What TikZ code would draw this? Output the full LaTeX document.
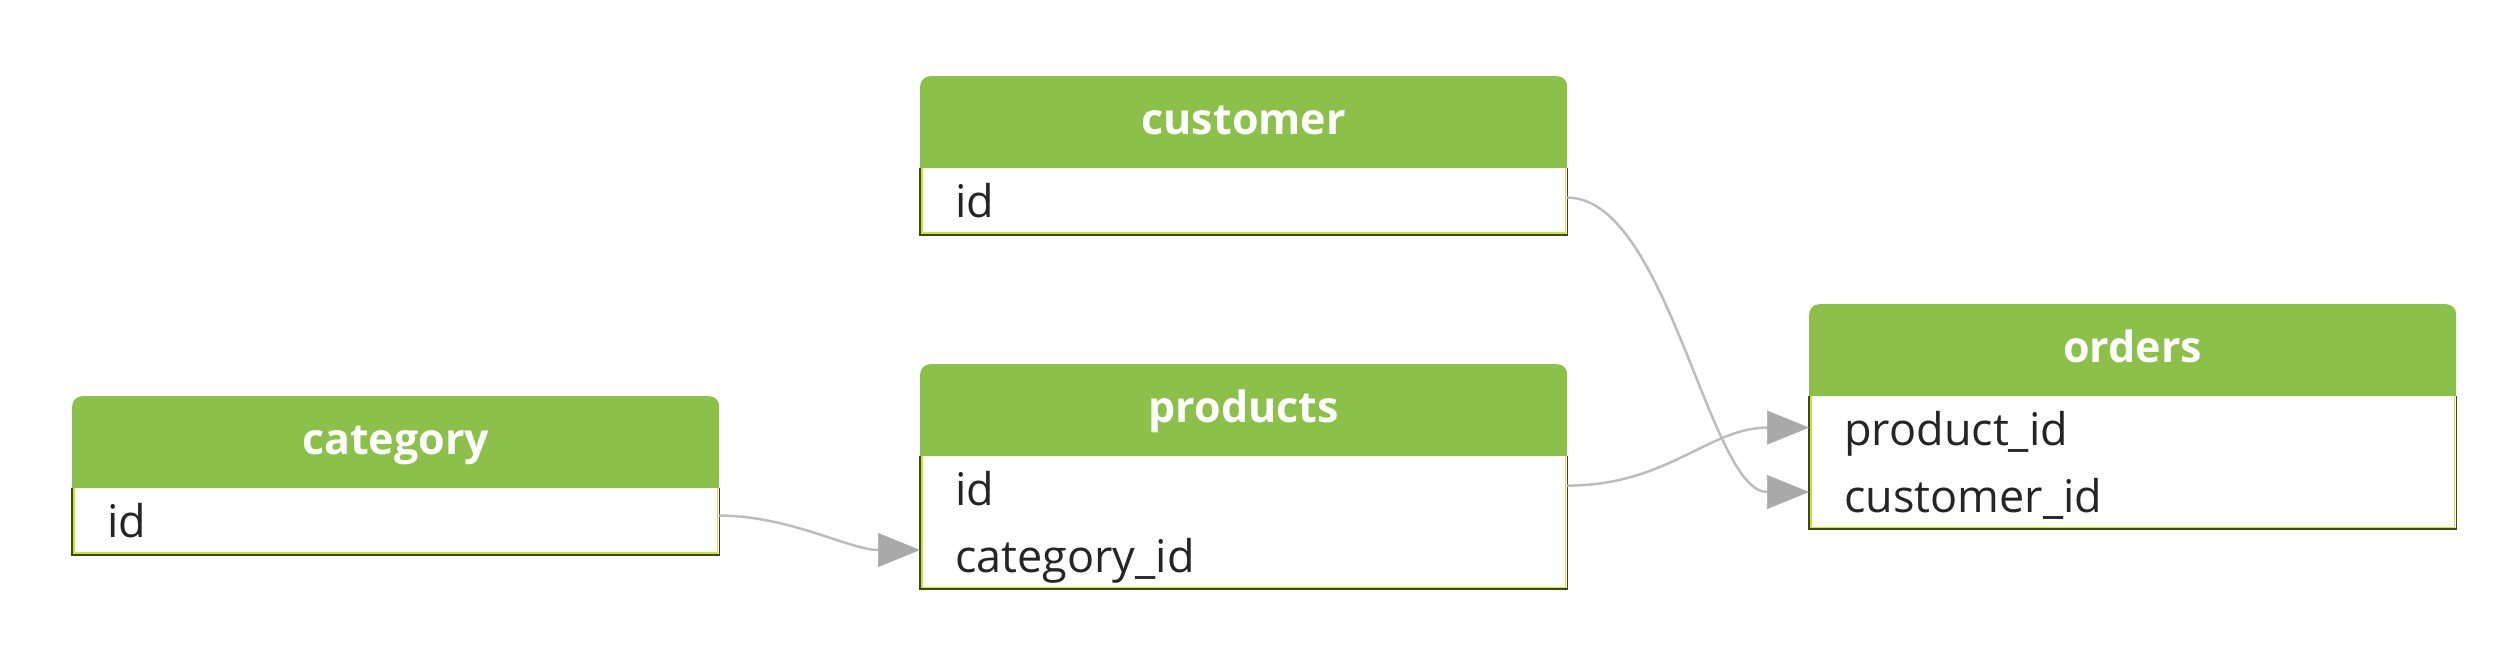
\documentclass[tikz,border=0pt]{standalone}
\usepackage{fontspec}
\setmainfont{Open Sans}
\usetikzlibrary{arrows.meta}
\definecolor{hdr}{HTML}{8CC04B}
\definecolor{edgeD}{HTML}{3E4A12}
\definecolor{edgeY}{HTML}{CBE03A}
\definecolor{conn}{HTML}{BDBDBD}
\definecolor{tipc}{HTML}{A9A9A9}
\definecolor{rowtxt}{HTML}{252525}
\tikzset{
  hdrbox/.style={fill=hdr, rounded corners=10pt, minimum width=647pt, minimum height=92pt,
    inner sep=0pt, anchor=north west, text=white, text height=34pt, text depth=10pt,
    font=\bfseries\fontsize{43}{50}\selectfont},
  rowbox/.style={fill=white, minimum height=66pt, inner ysep=0pt, inner xsep=35pt,
    text width=577pt, align=left, anchor=north west, text height=40pt, text depth=8pt,
    font=\fontsize{45}{50}\selectfont, text=rowtxt},
  fk/.style={draw=conn, line width=2.5pt, -{Triangle[length=42pt,width=34pt,color=tipc,line width=0.5pt]}},
  edgedark/.style={draw=edgeD, line width=1.8pt},
  edgelight/.style={draw=edgeY, line width=1.4pt},
}
\newcommand\tblborder[2]{%
  \draw[edgelight] ([xshift=2pt]#1.north west) -- ([shift={(2pt,2pt)}]#2.south west)
     -- ([shift={(-2pt,2pt)}]#2.south east) -- ([xshift=-2pt]#1.north east);
  \draw[edgedark] (#1.north west) -- (#2.south west) -- (#2.south east) -- (#1.north east);
}
\begin{document}
\begin{tikzpicture}[x=1pt,y=-1pt]
\useasboundingbox (0,0) rectangle (2520,664);
\fill[white] (0,0) rectangle (2520,664);

% customer
\node[hdrbox] (cust) at (920,76) {customer};
\fill[hdr] ([yshift=12pt]cust.south west) rectangle (cust.south east);
\node[rowbox] (cust-id) at (cust.south west) {id};
\tblborder{cust-id}{cust-id}

% products
\node[hdrbox] (prod) at (920,364) {products};
\fill[hdr] ([yshift=12pt]prod.south west) rectangle (prod.south east);
\node[rowbox] (prod-id) at (prod.south west) {id};
\node[rowbox] (prod-cat) at (prod-id.south west) {category\_id};
\tblborder{prod-id}{prod-cat}

% category
\node[hdrbox] (cat) at (72,396) {category};
\fill[hdr] ([yshift=12pt]cat.south west) rectangle (cat.south east);
\node[rowbox] (cat-id) at (cat.south west) {id};
\tblborder{cat-id}{cat-id}

% orders
\node[hdrbox] (ord) at (1809,304) {orders};
\fill[hdr] ([yshift=12pt]ord.south west) rectangle (ord.south east);
\node[rowbox] (ord-prod) at (ord.south west) {product\_id};
\node[rowbox] (ord-cust) at (ord-prod.south west) {customer\_id};
\tblborder{ord-prod}{ord-cust}

% connectors
\draw[fk] ([yshift=6pt]cat-id.east) .. controls +(70,0) and +(-70,0) .. ([yshift=6pt]prod-cat.west);
\draw[fk] ([yshift=4pt]cust-id.east) .. controls +(100,0) and +(-100,0) .. ([yshift=4pt]ord-cust.west);
\draw[fk] ([yshift=4pt]prod-id.east) .. controls +(100,0) and +(-100,0) .. ([yshift=2pt]ord-prod.west);
\end{tikzpicture}
\end{document}
